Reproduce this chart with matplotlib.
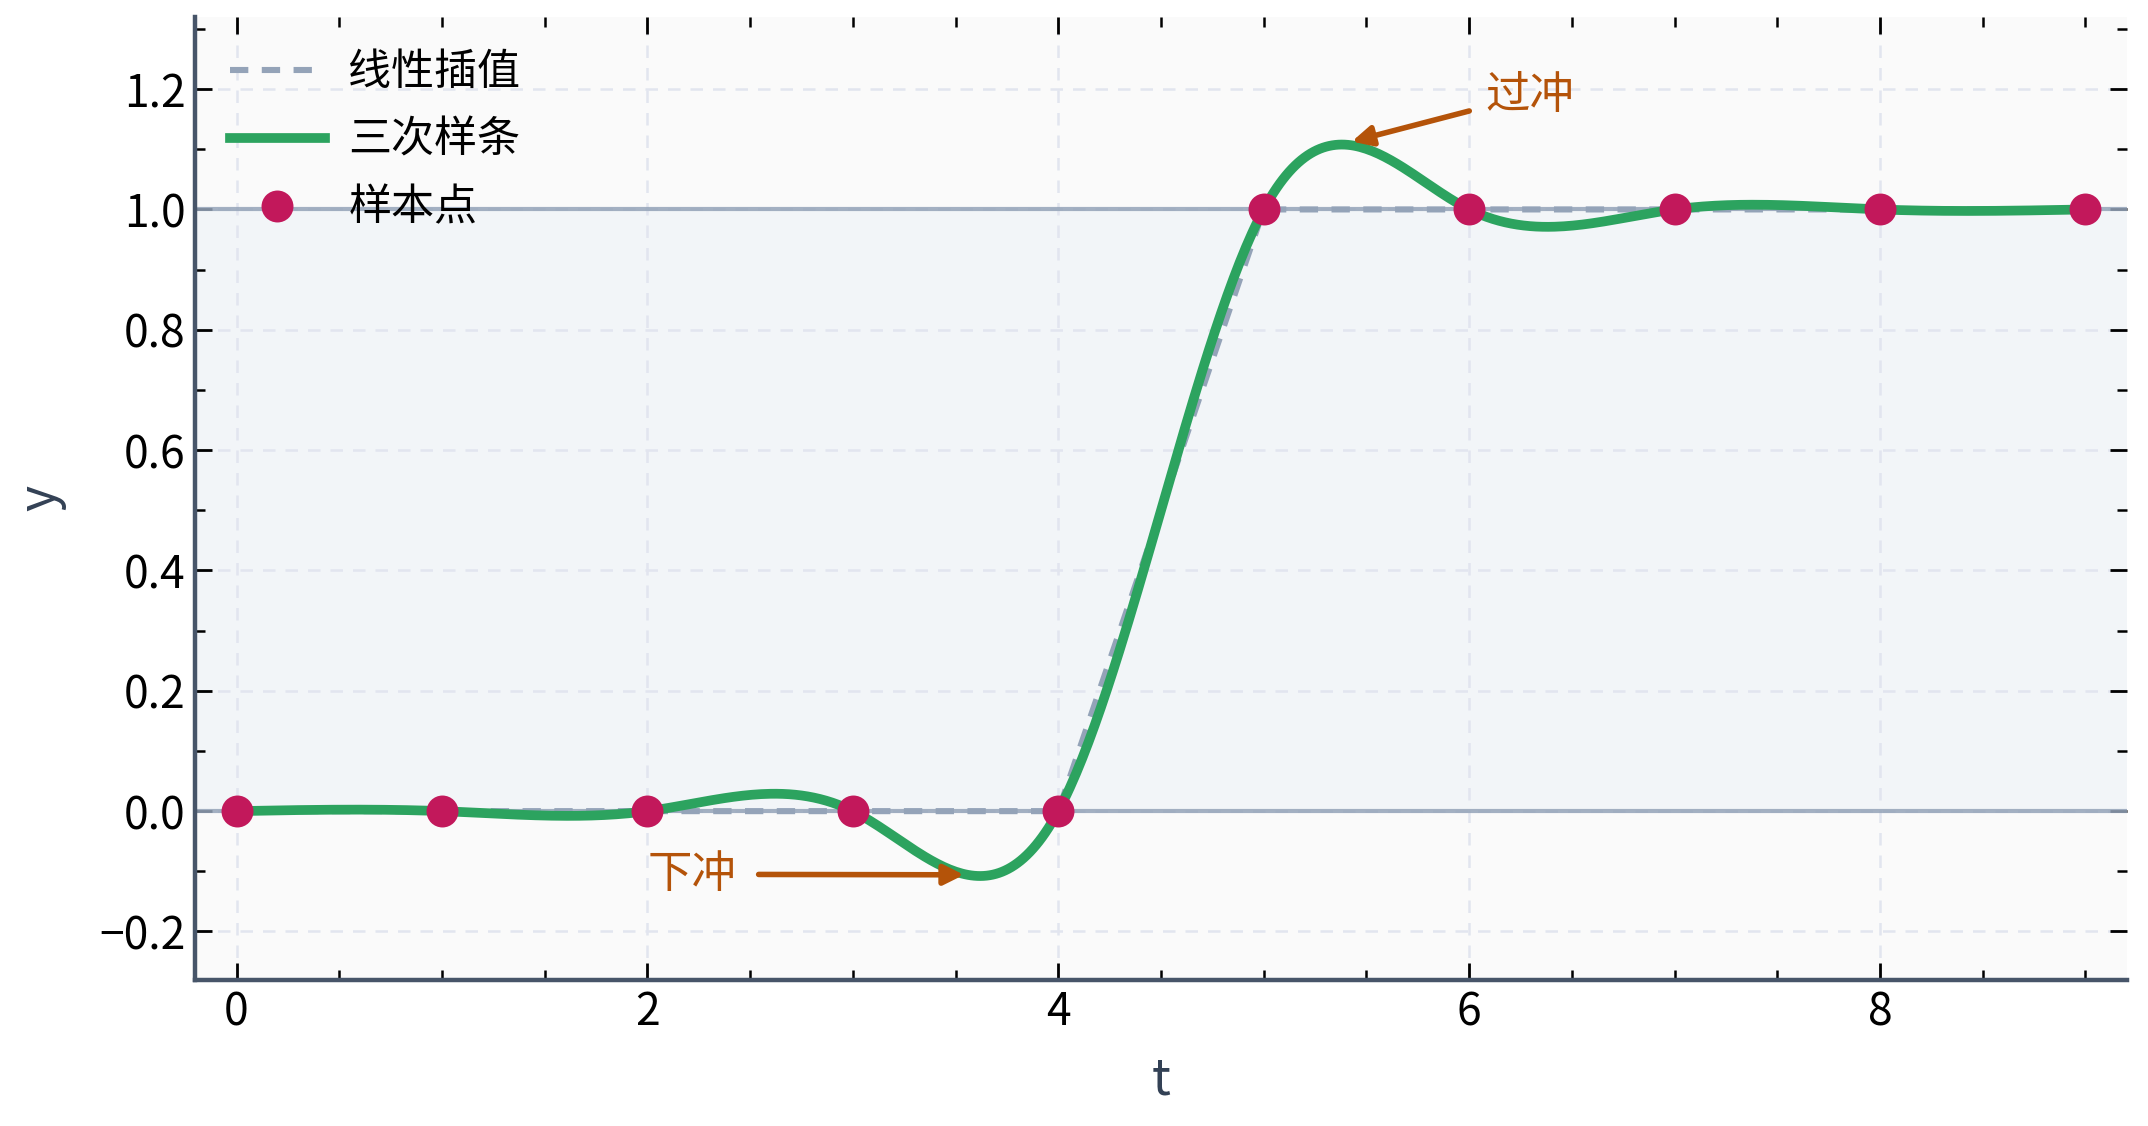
import numpy as np
import matplotlib.pyplot as plt
from matplotlib.ticker import MultipleLocator, AutoMinorLocator

plt.rcParams['font.family'] = ['Noto Sans CJK SC', 'DejaVu Sans']
plt.rcParams['axes.unicode_minus'] = True

# 样本点（阶跃信号）
t_samples = [0, 1, 2, 3, 4, 5, 6, 7, 8, 9]
y_samples = [0, 0, 0, 0, 0, 1, 1, 1, 1, 1]

legend_labels = ['线性插值', '三次样条', '样本点']
note_over = '过冲'
note_under = '下冲'


def natural_spline(x, y, xs):
    # 自然三次样条：二阶导在两端为零
    x = np.asarray(x, float)
    y = np.asarray(y, float)
    n = len(x)
    h = np.diff(x)
    A = np.zeros((n, n))
    b = np.zeros(n)
    A[0, 0] = 1
    A[-1, -1] = 1
    for i in range(1, n - 1):
        A[i, i - 1] = h[i - 1]
        A[i, i] = 2 * (h[i - 1] + h[i])
        A[i, i + 1] = h[i]
        b[i] = 6 * ((y[i + 1] - y[i]) / h[i] - (y[i] - y[i - 1]) / h[i - 1])
    M = np.linalg.solve(A, b)
    idx = np.clip(np.searchsorted(x, xs) - 1, 0, n - 2)
    x0, x1 = x[idx], x[idx + 1]
    hh = x1 - x0
    a = (x1 - xs) / hh
    c = (xs - x0) / hh
    return (a * y[idx] + c * y[idx + 1]
            + ((a ** 3 - a) * M[idx] + (c ** 3 - c) * M[idx + 1]) * hh ** 2 / 6)


t_fine = np.linspace(t_samples[0], t_samples[-1], 600)
y_spline = natural_spline(t_samples, y_samples, t_fine)

fig, ax = plt.subplots(figsize=(10.74, 5.63), dpi=200)
fig.subplots_adjust(left=0.091, right=0.99, top=0.985, bottom=0.13)
ax.set_facecolor('#fafafa')

ax.axhspan(0, 1, color='#eef2f8', alpha=0.6, zorder=0, lw=0)
ax.axhline(0, color='#94a3b8', lw=1.5, alpha=0.85, zorder=1)
ax.axhline(1, color='#94a3b8', lw=1.5, alpha=0.85, zorder=1)

ax.plot(t_samples, y_samples, color='#94a3b8', lw=2.2, ls=(0, (3, 2.2)),
        label=legend_labels[0], zorder=2)
ax.plot(t_fine, y_spline, color='#2ca35f', lw=3.5, label=legend_labels[1], zorder=3)
ax.plot(t_samples, y_samples, 'o', color='#c2185b', ms=11.5, mec='#c2185b', mew=0,
        label=legend_labels[2], zorder=4)

i_max = np.argmax(y_spline)
i_min = np.argmin(y_spline)
ax.annotate(note_over, xy=(t_fine[i_max] + 0.05, y_spline[i_max] + 0.005),
            xytext=(6.08, 1.19), color='#b45309', fontsize=16, ha='left', va='center',
            arrowprops=dict(arrowstyle='-|>', color='#b45309', lw=2.0, mutation_scale=15,
                            shrinkA=4, shrinkB=0))
ax.annotate(note_under, xy=(t_fine[i_min] - 0.08, y_spline[i_min] + 0.002),
            xytext=(2.0, -0.105), color='#b45309', fontsize=16, ha='left', va='center',
            arrowprops=dict(arrowstyle='-|>', color='#b45309', lw=2.0, mutation_scale=15,
                            shrinkA=6, shrinkB=0))

ax.set_xlim(-0.2, 9.2)
ax.set_ylim(-0.28, 1.32)
ax.xaxis.set_major_locator(MultipleLocator(2))
ax.xaxis.set_minor_locator(MultipleLocator(0.5))
ax.yaxis.set_major_locator(MultipleLocator(0.2))
ax.yaxis.set_minor_locator(AutoMinorLocator(2))

ax.grid(True, which='major', color='#e2e5ef', ls=(0, (5, 4)), lw=0.9)
ax.set_axisbelow(True)

for s in ['top', 'right']:
    ax.spines[s].set_visible(False)
for s in ['left', 'bottom']:
    ax.spines[s].set_color('#475569')
    ax.spines[s].set_linewidth(1.6)

ax.tick_params(which='both', direction='in', top=True, right=True, labelsize=16, colors='black')
ax.tick_params(which='major', length=6, width=1.0)
ax.tick_params(which='minor', length=3.5, width=0.9)

ax.set_xlabel('t', fontsize=18, color='#334155', labelpad=7)
ax.set_ylabel('y', fontsize=18, color='#334155', labelpad=12)

ax.legend(loc='upper left', frameon=False, fontsize=15.5, handlelength=2.2,
          handletextpad=0.55, borderaxespad=0.3, borderpad=0.5, labelspacing=0.55)

fig.savefig('out.png', dpi=200)
